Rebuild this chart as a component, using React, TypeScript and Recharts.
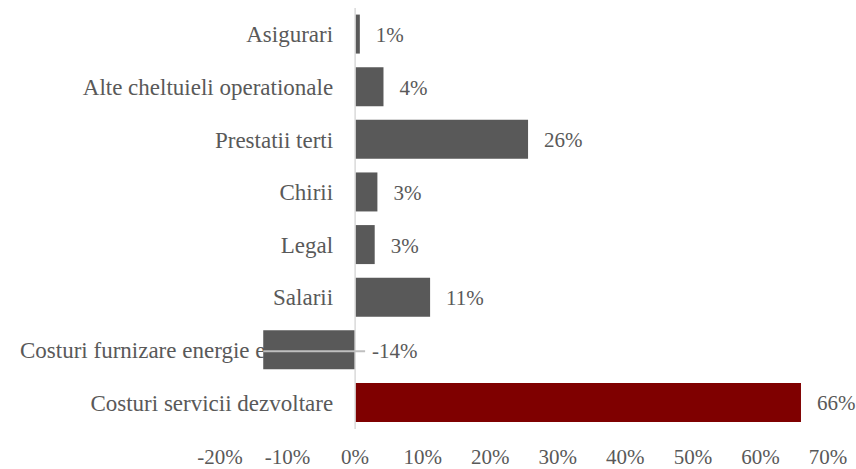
import React from 'react';
import { BarChart, Bar, XAxis, YAxis, Cell, LabelList, ReferenceLine } from 'recharts';

const categories = [
  'Asigurari',
  'Alte cheltuieli operationale',
  'Prestatii terti',
  'Chirii',
  'Legal',
  'Salarii',
  'Costuri furnizare energie electrica',
  'Costuri servicii dezvoltare',
];
const values = [0.7, 4.2, 25.6, 3.3, 2.9, 11.1, -13.6, 66.0];
const barColors = ['#595959', '#595959', '#595959', '#595959', '#595959', '#595959', '#595959', '#7F0000'];
const xTicks = [-20, -10, 0, 10, 20, 30, 40, 50, 60, 70];

const data = categories.map((name, i) => ({ name, value: values[i], color: barColors[i] }));

const CHART_W = 843;
const CHART_H = 469;
const MARGIN = { top: 8, right: 28, left: 0, bottom: 0 };
const Y_AXIS_W = 207;
const X_AXIS_H = 40;
const X_MIN = -20;
const X_MAX = 70;
const PLOT_LEFT = MARGIN.left + Y_AXIS_W;
const PLOT_WIDTH = CHART_W - MARGIN.right - PLOT_LEFT;
const ZERO_X = PLOT_LEFT + ((0 - X_MIN) / (X_MAX - X_MIN)) * PLOT_WIDTH;

const FONT = "'Liberation Serif', 'Times New Roman', serif";
const TEXT_COLOR = '#595959';

const YTick = (props: any) => {
  const { y, payload } = props;
  return (
    <text x={ZERO_X - 22} y={y + 8} textAnchor="end" fill={TEXT_COLOR} fontSize={23} fontFamily={FONT}>
      {payload.value}
    </text>
  );
};

const XTick = (props: any) => {
  const { x, y, payload } = props;
  return (
    <text x={x} y={y + 35} textAnchor="middle" fill={TEXT_COLOR} fontSize={21} fontFamily={FONT}>
      {`${payload.value}%`}
    </text>
  );
};

const ValueLabel = (props: any) => {
  const { x, y, width, height, value } = props;
  const a = Number(x);
  const b = Number(x) + Number(width);
  const cy = Number(y) + Number(height) / 2;
  const text = `${Math.round(Number(value))}%`;
  if (Number(value) >= 0) {
    const end = Math.max(a, b);
    return (
      <text x={end + 16} y={cy + 8} textAnchor="start" fill={TEXT_COLOR} fontSize={21} fontFamily={FONT}>
        {text}
      </text>
    );
  }
  const end = Math.min(a, b);
  const zero = Math.max(a, b);
  return (
    <g>
      <line x1={end} y1={cy + 1.5} x2={zero + 10} y2={cy + 1.5} stroke="#BFBFBF" strokeWidth={2} />
      <text x={zero + 17} y={cy + 8} textAnchor="start" fill={TEXT_COLOR} fontSize={21} fontFamily={FONT}>
        {text}
      </text>
    </g>
  );
};

export default function App() {
  return (
    <div style={{ position: 'absolute', left: 13, top: 0 }}>
      <BarChart
        width={CHART_W}
        height={CHART_H}
        data={data}
        layout="vertical"
        margin={MARGIN}
        barCategoryGap="12.5%"
      >
        <YAxis
          type="category"
          dataKey="name"
          width={Y_AXIS_W}
          axisLine={false}
          tickLine={false}
          tick={<YTick />}
          interval={0}
        />
        <XAxis
          type="number"
          domain={[X_MIN, X_MAX]}
          ticks={xTicks}
          height={X_AXIS_H}
          axisLine={false}
          tickLine={false}
          tickSize={0}
          tickMargin={0}
          tick={<XTick />}
          interval={0}
        />
        <ReferenceLine x={0} stroke="#D9D9D9" strokeWidth={1.5} />
        <Bar dataKey="value" isAnimationActive={false}>
          {data.map((d, i) => (
            <Cell key={i} fill={d.color} />
          ))}
          <LabelList dataKey="value" content={<ValueLabel />} />
        </Bar>
      </BarChart>
    </div>
  );
}
